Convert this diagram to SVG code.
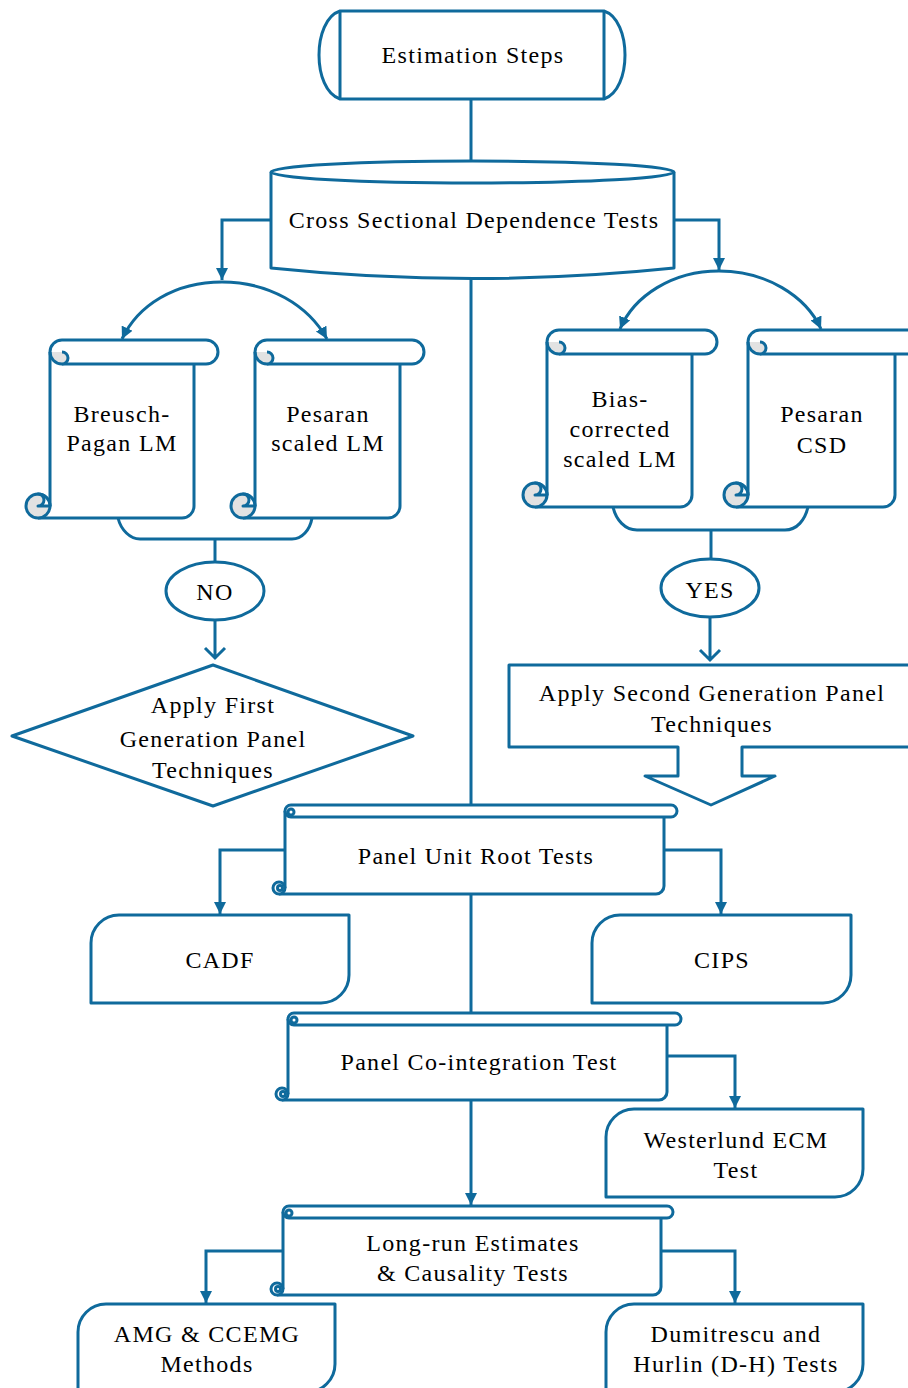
<svg xmlns="http://www.w3.org/2000/svg" width="908" height="1388" viewBox="0 0 908 1388">
<defs>
<style>
.s{fill:none;stroke:#0f6a9c;stroke-width:3;stroke-linejoin:round}
.w{fill:#fff;stroke:#0f6a9c;stroke-width:3;stroke-linejoin:round}
.g{fill:#e2e2e2;stroke:#0f6a9c;stroke-width:3}
.gf{fill:#e2e2e2;stroke:none}
.c{fill:none;stroke:#0f6a9c;stroke-width:3}
.a{fill:none;stroke:#0f6a9c;stroke-width:3;marker-end:url(#ah)}
text{font-family:"Liberation Serif","Times New Roman",serif;font-size:24px;fill:#000;text-anchor:middle;letter-spacing:1.3px}
</style>
<marker id="ah" viewBox="0 0 12 14" refX="12" refY="7" markerWidth="12" markerHeight="14" markerUnits="userSpaceOnUse" orient="auto">
<path d="M0,1 L12,7 L0,13 Z" fill="#0f6a9c"/>
</marker>
</defs>
<rect width="908" height="1388" fill="#fff"/>

<g id="connectors">
<path class="c" d="M471,99 V161"/>
<path class="a" d="M271,220 H222 V280"/>
<path class="a" d="M674,220 H719 V270"/>
<path class="a" d="M222,282 C175,282 138,305 122,339"/>
<path class="a" d="M222,282 C269,282 308,305 327,339"/>
<path class="a" d="M719,271 C672,271 634,296 620,329"/>
<path class="a" d="M719,271 C766,271 806,296 821,329"/>
<path class="c" d="M471,278 V806"/>
<path class="c" d="M215,539 V563"/>
<path class="c" d="M711,530 V559"/>
<path class="c" d="M215,620 V658 M205,648 L215,658 L225,648"/>
<path class="c" d="M710,617 V660 M700,650 L710,660 L720,650"/>
<path class="a" d="M285,850 H220 V914"/>
<path class="a" d="M664,850 H721 V914"/>
<path class="c" d="M471,894 V1013"/>
<path class="a" d="M667,1056 H735 V1108"/>
<path class="a" d="M471,1100 V1205"/>
<path class="a" d="M283,1251 H206 V1303"/>
<path class="a" d="M661,1251 H735 V1303"/>
</g>

<g id="estimation-steps">
<path class="w" d="M340,11 H604 C632,20 632,90 604,99 H340 C312,90 312,20 340,11 Z"/>
<path class="s" d="M340,11 V99 M604,11 V99"/>
<text x="473" y="63">Estimation Steps</text>
</g>

<g id="cross-sectional">
<path class="w" d="M271,172 V268 Q472.5,289 674,268 V172"/>
<ellipse class="w" cx="472.5" cy="172" rx="201.5" ry="11"/>
<text x="474" y="228">Cross Sectional Dependence Tests</text>
</g>

<g id="breusch-pagan">
<path class="s" d="M50,352 A12,12 0 0 1 62,340 H206 A12,12 0 0 1 206,364 H62"/>
<path class="gf" d="M50,352 A12,12 0 0 0 62,364 A6,6 0 0 0 62,352 Z"/>
<path class="s" d="M50,352 A12,12 0 0 0 62,364 A6,6 0 0 0 62,352"/>
<path class="s" d="M50,352 V506 M194,364 V506 A12,12 0 0 1 182,518 H38"/>
<circle class="g" cx="38" cy="506" r="12"/>
<path class="w" d="M38,506 A6,6 0 0 0 38,494 A12,12 0 0 1 50,506 Z"/>
<text x="122" y="422">Breusch-</text>
<text x="122" y="451">Pagan LM</text>
</g>

<g id="pesaran-scaled">
<path class="s" d="M255,352 A12,12 0 0 1 267,340 H412 A12,12 0 0 1 412,364 H267"/>
<path class="gf" d="M255,352 A12,12 0 0 0 267,364 A6,6 0 0 0 267,352 Z"/>
<path class="s" d="M255,352 A12,12 0 0 0 267,364 A6,6 0 0 0 267,352"/>
<path class="s" d="M255,352 V506 M400,364 V506 A12,12 0 0 1 388,518 H243"/>
<circle class="g" cx="243" cy="506" r="12"/>
<path class="w" d="M243,506 A6,6 0 0 0 243,494 A12,12 0 0 1 255,506 Z"/>
<text x="328" y="422">Pesaran</text>
<text x="328" y="451">scaled LM</text>
</g>

<g id="bracket-left">
<path class="s" d="M118,518 C121,530 130,539 140,539 H292 C302,539 310,530 312,518"/>
</g>

<g id="bias-corrected">
<path class="s" d="M547,342 A12,12 0 0 1 559,330 H705 A12,12 0 0 1 705,354 H559"/>
<path class="gf" d="M547,342 A12,12 0 0 0 559,354 A6,6 0 0 0 559,342 Z"/>
<path class="s" d="M547,342 A12,12 0 0 0 559,354 A6,6 0 0 0 559,342"/>
<path class="s" d="M547,342 V495 M692,354 V495 A12,12 0 0 1 680,507 H535"/>
<circle class="g" cx="535" cy="495" r="12"/>
<path class="w" d="M535,495 A6,6 0 0 0 535,483 A12,12 0 0 1 547,495 Z"/>
<text x="620" y="407">Bias-</text>
<text x="620" y="437">corrected</text>
<text x="620" y="467">scaled LM</text>
</g>

<g id="pesaran-csd">
<path class="s" d="M748,342 A12,12 0 0 1 760,330 H907 A12,12 0 0 1 907,354 H760"/>
<path class="gf" d="M748,342 A12,12 0 0 0 760,354 A6,6 0 0 0 760,342 Z"/>
<path class="s" d="M748,342 A12,12 0 0 0 760,354 A6,6 0 0 0 760,342"/>
<path class="s" d="M748,342 V495 M895,354 V495 A12,12 0 0 1 883,507 H736"/>
<circle class="g" cx="736" cy="495" r="12"/>
<path class="w" d="M736,495 A6,6 0 0 0 736,483 A12,12 0 0 1 748,495 Z"/>
<text x="822" y="422">Pesaran</text>
<text x="822" y="453">CSD</text>
</g>

<g id="bracket-right">
<path class="s" d="M613,507 C616,520 625,530 637,530 H785 C797,530 805,520 808,507"/>
</g>

<g id="no">
<ellipse class="w" cx="215" cy="591" rx="49" ry="29"/>
<text x="215" y="600">NO</text>
</g>

<g id="yes">
<ellipse class="w" cx="710" cy="588" rx="49" ry="29"/>
<text x="710" y="598">YES</text>
</g>

<g id="first-generation">
<polygon class="w" points="213,665 413,736 213,806 12,736"/>
<text x="213" y="713">Apply First</text>
<text x="213" y="747">Generation Panel</text>
<text x="213" y="778">Techniques</text>
</g>

<g id="second-generation">
<path class="w" d="M915,665 H509 V747 H678 V776 H645 L711,805 L775,776 H742 V747 H915"/>
<text x="712" y="701">Apply Second Generation Panel</text>
<text x="712" y="732">Techniques</text>
</g>

<g id="panel-unit-root">
<path class="w" d="M285,811 V888 H664 V817 H285 Z" style="stroke:none"/>
<path class="s" d="M285,811 A6,6 0 0 1 291,805 H671 A6,6 0 0 1 671,817 H291"/>
<path class="s" d="M291,817 A6,6 0 0 1 285,811"/>
<circle class="s" cx="291" cy="812" r="3"/>
<path class="s" d="M285,811 V888 M664,817 V886 A8,8 0 0 1 656,894 H279"/>
<circle class="w" cx="279" cy="888" r="6"/>
<circle class="s" cx="280" cy="888" r="2.5"/>
<text x="476" y="864">Panel Unit Root Tests</text>
</g>

<g id="cadf">
<path class="w" d="M119,915 H349 V975 A28,28 0 0 1 321,1003 H91 V943 A28,28 0 0 1 119,915 Z"/>
<text x="220" y="968">CADF</text>
</g>

<g id="cips">
<path class="w" d="M620,915 H851 V975 A28,28 0 0 1 823,1003 H592 V943 A28,28 0 0 1 620,915 Z"/>
<text x="722" y="968">CIPS</text>
</g>

<g id="panel-cointegration">
<path class="s" d="M288,1019 A6,6 0 0 1 294,1013 H675 A6,6 0 0 1 675,1025 H294"/>
<path class="s" d="M294,1025 A6,6 0 0 1 288,1019"/>
<circle class="s" cx="294" cy="1020" r="3"/>
<path class="s" d="M288,1019 V1094 M667,1025 V1092 A8,8 0 0 1 659,1100 H282"/>
<circle class="w" cx="282" cy="1094" r="6"/>
<circle class="s" cx="283" cy="1094" r="2.5"/>
<text x="479" y="1070">Panel Co-integration Test</text>
</g>

<g id="westerlund">
<path class="w" d="M634,1109 H863 V1169 A28,28 0 0 1 835,1197 H606 V1137 A28,28 0 0 1 634,1109 Z"/>
<text x="736" y="1148">Westerlund ECM</text>
<text x="736" y="1178">Test</text>
</g>

<g id="long-run">
<path class="s" d="M283,1212 A6,6 0 0 1 289,1206 H667 A6,6 0 0 1 667,1218 H289"/>
<path class="s" d="M289,1218 A6,6 0 0 1 283,1212"/>
<circle class="s" cx="289" cy="1213" r="3"/>
<path class="s" d="M283,1212 V1289 M661,1218 V1287 A8,8 0 0 1 653,1295 H277"/>
<circle class="w" cx="277" cy="1289" r="6"/>
<circle class="s" cx="278" cy="1289" r="2.5"/>
<text x="473" y="1251">Long-run Estimates</text>
<text x="473" y="1281">&amp; Causality Tests</text>
</g>

<g id="amg">
<path class="w" d="M106,1304 H335 V1364 A28,28 0 0 1 307,1392 H78 V1332 A28,28 0 0 1 106,1304 Z"/>
<text x="207" y="1342">AMG &amp; CCEMG</text>
<text x="207" y="1372">Methods</text>
</g>

<g id="dumitrescu">
<path class="w" d="M634,1304 H863 V1364 A28,28 0 0 1 835,1392 H606 V1332 A28,28 0 0 1 634,1304 Z"/>
<text x="736" y="1342">Dumitrescu and</text>
<text x="736" y="1372">Hurlin (D-H) Tests</text>
</g>
</svg>
